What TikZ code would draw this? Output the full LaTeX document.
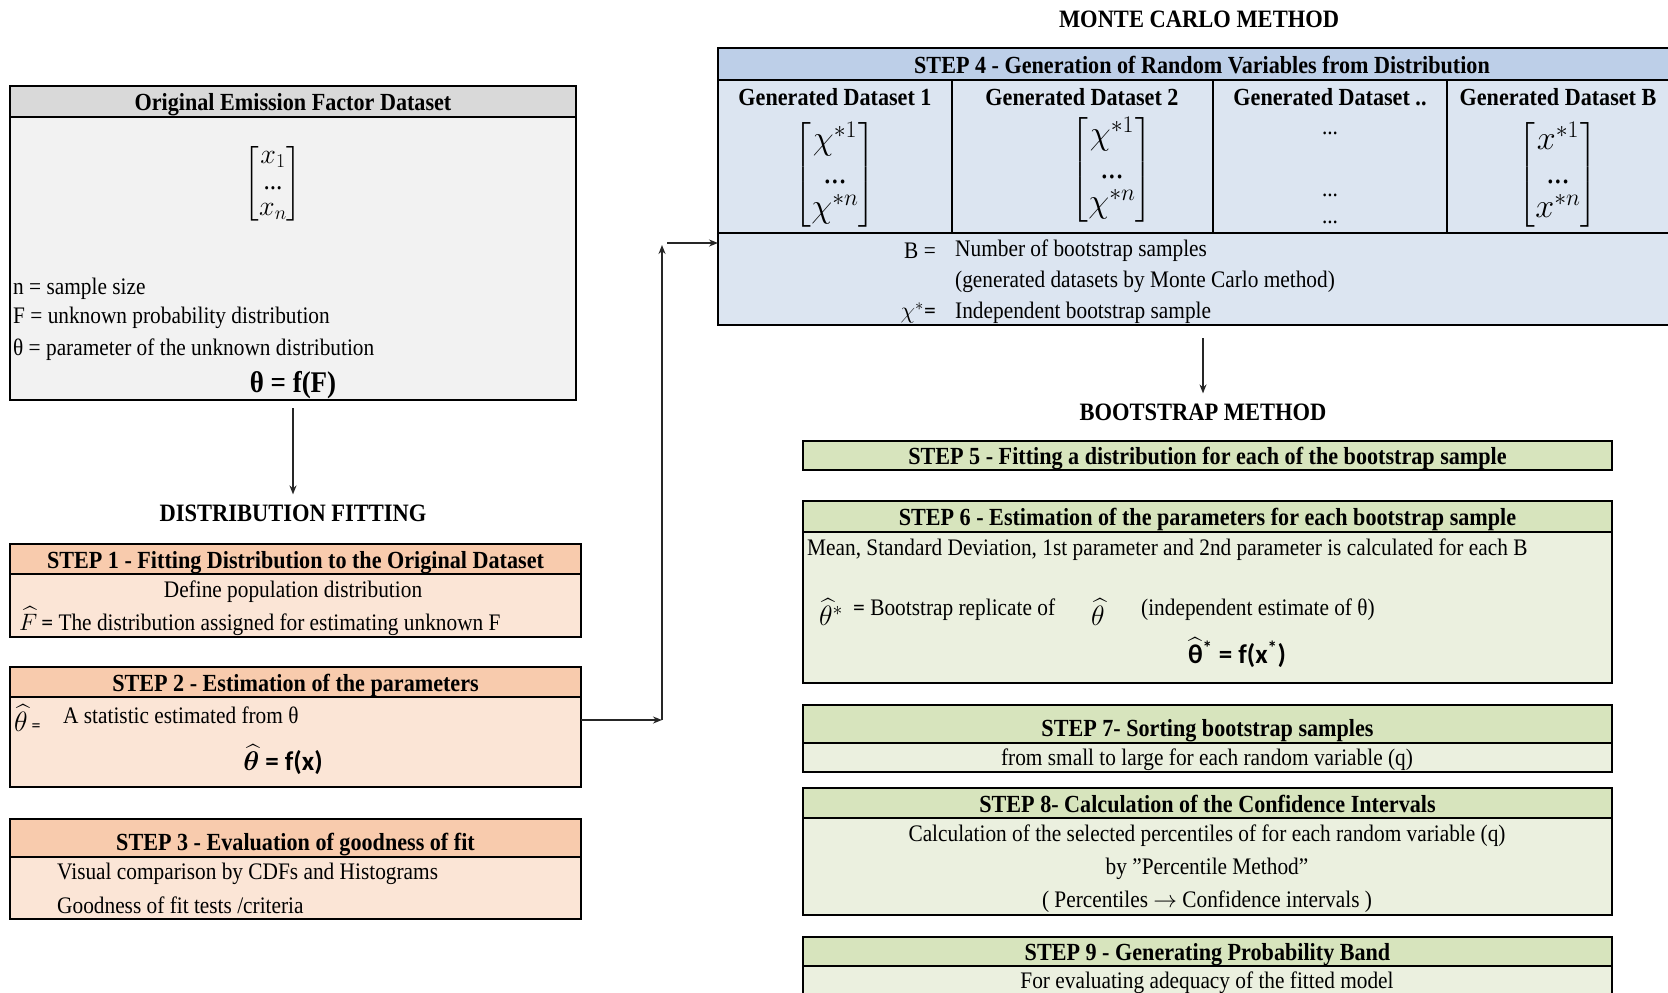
\RequirePackage{fix-cm}
\documentclass[tikz,border=0pt]{standalone}
\usepackage{amsmath}
\usepackage{fontspec}
\setmainfont{Liberation Serif}[FakeStretch=0.9]
\newfontfamily\sansf{Carlito}
\usetikzlibrary{arrows.meta,calc}
\definecolor{grayH}{HTML}{D9D9D9}
\definecolor{grayB}{HTML}{F2F2F2}
\definecolor{orangeH}{HTML}{F8CBAD}
\definecolor{orangeB}{HTML}{FBE5D6}
\definecolor{blueH}{HTML}{BDCFE8}
\definecolor{blueB}{HTML}{DCE5F1}
\definecolor{greenH}{HTML}{D7E4BD}
\definecolor{greenB}{HTML}{EBF0DF}
\newcommand\txtfont{\fontsize{23.7}{27}\selectfont}
\newcommand\hdrfont{\fontsize{24.6}{28}\selectfont\bfseries}
\newcommand\secfont{\fontsize{25}{28}\selectfont\bfseries}
\newcommand\mtxfont{\fontsize{28}{26}\selectfont}
\newcommand\bigmtxfont{\fontsize{34}{34}\selectfont}
\newcommand\formfont{\fontsize{27}{30}\selectfont\bfseries}
\newcommand\mformfont{\fontsize{30}{32}\selectfont\bfseries}
\newcommand\hatfont{\fontsize{28}{30}\selectfont}
\tikzset{
  box/.style={draw=black, line width=1.6pt, anchor=north west, inner sep=0pt, outer sep=0pt},
  hdr/.style={box, font=\hdrfont, text height=18pt, text depth=0pt},
  tallhdr/.style={hdr, text height=24pt, text depth=0pt},
  txt/.style={inner sep=0pt, font=\txtfont, yshift=-2pt},
  sec/.style={inner sep=0pt, font=\secfont},
  divline/.style={draw=black, line width=1.3pt},
  arr/.style={-{Stealth[length=9pt,width=7pt]}, line width=1.5pt, draw=black!85}
}
\begin{document}
\begin{tikzpicture}[x=1pt,y=-1pt]
\useasboundingbox (0,0) rectangle (1668,993);
\clip (0,0) rectangle (1668,993);

% ---------- Original dataset ----------
\node[box, fill=grayB, minimum width=566, minimum height=314] (orig) at (10,86) {};
\node[hdr, fill=grayH, minimum width=566, minimum height=31] (origh) at (10,86) {Original Emission Factor Dataset};
\node[font=\mtxfont, inner sep=0pt] (origm) at (273,184) {$\begin{bmatrix}x_1\\ \text{...}\\ x_n\end{bmatrix}$};
\node[txt, anchor=west] (o1) at (13,287) {n = sample size};
\node[txt, anchor=west] (o2) at (13,316) {F = unknown probability distribution};
\node[txt, anchor=west] (o3) at (13,348) {θ = parameter of the unknown distribution};
\node[inner sep=0pt, font=\mformfont] (o4) at (293,385) {θ = f(F)};

\node[sec] (distfit) at (293,513) {DISTRIBUTION FITTING};
\draw[arr, shorten <=8pt, shorten >=10pt] (orig.south) -- (distfit.north);

% ---------- Step 1 ----------
\node[box, fill=orangeB, minimum width=571, minimum height=93] (s1) at (10,544) {};
\node[hdr, fill=orangeH, minimum width=571, minimum height=30] (s1h) at (10,544) {STEP 1 - Fitting Distribution to the Original Dataset};
\node[txt] (s1a) at (293,590) {Define population distribution};
\node[txt, anchor=west] (s1b) at (19,619) {$\widehat{F}$\,{\sansf =} The distribution assigned for estimating unknown F};

% ---------- Step 2 ----------
\node[box, fill=orangeB, minimum width=571, minimum height=120] (s2) at (10,667) {};
\node[hdr, fill=orangeH, minimum width=571, minimum height=30] (s2h) at (10,667) {STEP 2 - Estimation of the parameters};
\node[txt, anchor=west] (s2a) at (14,716) {{\hatfont$\widehat{\theta}$}\,{\sansf\fontsize{18}{20}\selectfont =}};
\node[txt, anchor=west] (s2b) at (63,713) {A statistic estimated from θ};
\node[inner sep=0pt, font=\formfont\sansf] (s2c) at (283,760) {$\boldsymbol{\widehat{\theta}}$ = f(x)};

% ---------- Step 3 ----------
\node[box, fill=orangeB, minimum width=571, minimum height=100] (s3) at (10,819) {};
\node[tallhdr, fill=orangeH, minimum width=571, minimum height=38] (s3h) at (10,819) {STEP 3 - Evaluation of goodness of fit};
\node[txt, anchor=west] (s3a) at (57,872) {Visual comparison by CDFs and Histograms};
\node[txt, anchor=west] (s3b) at (57,903) {Goodness of fit tests /criteria};

% ---------- Step 4 ----------
\node[sec] (mc) at (1199,19) {MONTE CARLO METHOD};
\node[box, fill=blueB, minimum width=982, minimum height=277] (s4) at (718,48) {};
\node[box, fill=blueH, minimum width=982, minimum height=32] (s4h) at (718,48) {};
\node[inner sep=0pt, font=\hdrfont] (s4t) at (1202,65) {STEP 4 - Generation of Random Variables from Distribution};
\draw[divline] (718,233) -- (1700,233);
\draw[divline] (952,80) -- (952,233);
\draw[divline] (1213,80) -- (1213,233);
\draw[divline] (1447,80) -- (1447,233);
\node[inner sep=0pt, font=\hdrfont] (g1) at (835,97) {Generated Dataset 1};
\node[inner sep=0pt, font=\hdrfont] (g2) at (1082,97) {Generated Dataset 2};
\node[inner sep=0pt, font=\hdrfont] (g3) at (1330,97) {Generated Dataset ..};
\node[inner sep=0pt, font=\hdrfont] (g4) at (1558,97) {Generated Dataset B};
\node[font=\bigmtxfont, inner sep=0pt] (m1) at (835,175) {$\begin{bmatrix}\chi^{*1}\\ \text{...}\\ \chi^{*n}\end{bmatrix}$};
\node[font=\bigmtxfont, inner sep=0pt] (m2) at (1112,170) {$\begin{bmatrix}\chi^{*1}\\ \text{...}\\ \chi^{*n}\end{bmatrix}$};
\node[font=\bigmtxfont, inner sep=0pt] (m4) at (1558,175) {$\begin{bmatrix}x^{*1}\\ \text{...}\\ x^{*n}\end{bmatrix}$};
\node[txt] (d1) at (1330,131) {...};
\node[txt] (d2) at (1330,193) {...};
\node[txt] (d3) at (1330,220) {...};
\node[txt, anchor=east] (b1) at (936,249) {B =};
\node[txt, anchor=west] (b2) at (955,249) {Number of bootstrap samples};
\node[txt, anchor=west] (b3) at (955,280) {(generated datasets by Monte Carlo method)};
\node[txt, anchor=east] (b4) at (936,311) {$\chi^{*}${\sansf =}};
\node[txt, anchor=west] (b5) at (955,311) {Independent bootstrap sample};

% connector step 2 -> step 4
\coordinate (c1) at (662,720);
\coordinate (c2) at (662,245);
\coordinate (c3) at (667,243);
\draw[arr] (s2.east |- c1) -- (c1);
\draw[arr] (c1) -- (c2);
\draw[arr] (c3) -- (s4.west |- c3);

% ---------- Bootstrap ----------
\node[sec] (boot) at (1203,412) {BOOTSTRAP METHOD};
\draw[arr, shorten <=13pt, shorten >=10pt] (boot.north |- s4.south) -- (boot.north);

\node[hdr, fill=greenH, minimum width=809, minimum height=29] (s5) at (803,441) {STEP 5 - Fitting a distribution for each of the bootstrap sample};

\node[box, fill=greenB, minimum width=809, minimum height=182] (s6) at (803,501) {};
\node[hdr, fill=greenH, minimum width=809, minimum height=31] (s6h) at (803,501) {STEP 6 - Estimation of the parameters for each bootstrap sample};
\node[txt, anchor=west] (s6a) at (807,548) {Mean, Standard Deviation, 1st parameter and 2nd parameter is calculated for each B};
\node[txt, anchor=west] (s6b) at (819,610) {\hatfont$\widehat{\theta}^{*}$};
\node[txt, anchor=west] (s6c) at (853,608) {{\sansf =} Bootstrap replicate of};
\node[txt] (s6d) at (1098,610) {\hatfont$\widehat{\theta}$};
\node[txt, anchor=west] (s6e) at (1141,608) {(independent estimate of θ)};
\node[inner sep=0pt, font=\formfont\sansf] (s6f) at (1237,653) {$\widehat{\text{θ}}$\textsuperscript{*} = f(x\textsuperscript{*})};

\node[box, fill=greenB, minimum width=809, minimum height=67] (s7) at (803,705) {};
\node[tallhdr, fill=greenH, minimum width=809, minimum height=38] (s7h) at (803,705) {STEP 7- Sorting bootstrap samples};
\node[txt] (s7a) at (1207,758) {from small to large for each random variable (q)};

\node[box, fill=greenB, minimum width=809, minimum height=127] (s8) at (803,788) {};
\node[hdr, fill=greenH, minimum width=809, minimum height=30] (s8h) at (803,788) {STEP 8- Calculation of the Confidence Intervals};
\node[txt] (s8a) at (1207,834) {Calculation of the selected percentiles of for each random variable (q)};
\node[txt] (s8b) at (1207,867) {by "Percentile Method"};
\node[txt] (s8c) at (1207,900) {( Percentiles $\rightarrow$ Confidence intervals )};

\node[box, fill=greenB, minimum width=809, minimum height=80] (s9) at (803,937) {};
\node[hdr, fill=greenH, minimum width=809, minimum height=29] (s9h) at (803,937) {STEP 9 - Generating Probability Band};
\node[txt] (s9a) at (1207,981) {For evaluating adequacy of the fitted model};
\end{tikzpicture}
\end{document}
